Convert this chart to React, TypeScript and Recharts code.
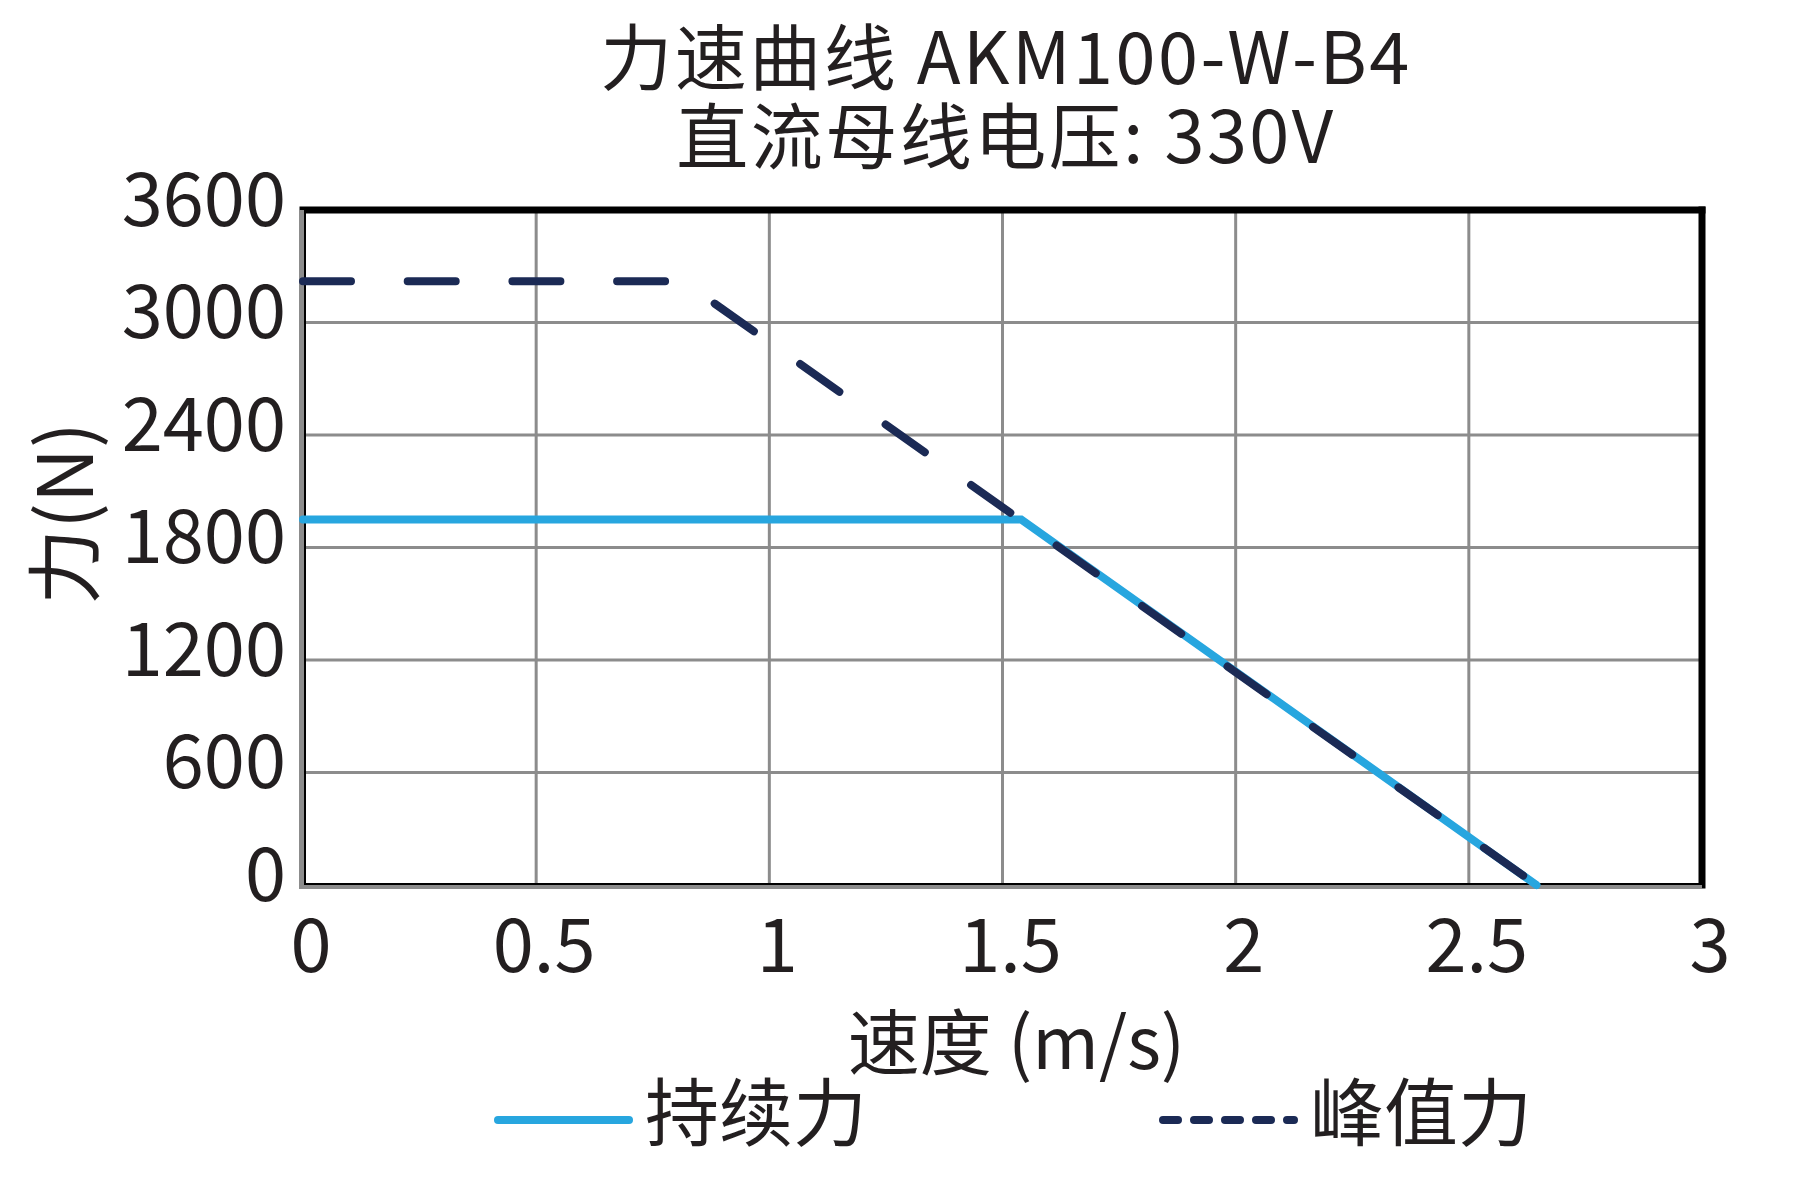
import { CartesianGrid, Legend, Line, LineChart, ReferenceLine, XAxis, YAxis } from "recharts";

const speedTicks = [0, 0.5, 1, 1.5, 2, 2.5, 3];
const forceTicks = [0, 600, 1200, 1800, 2400, 3000, 3600];

const continuousSpeed = [0, 1.54, 2.645];
const continuousForce = [1950, 1950, 0];
const peakSpeed = [0, 0.815, 2.645];
const peakForce = [3220, 3220, 0];

const titleLines = ["力速曲线 AKM100-W-B4", "直流母线电压: 330V"];
const xLabel = "速度 (m/s)";
const yLabel = "力(N)";
const seriesNames = ["持续力", "峰值力"];

const continuousData = continuousSpeed.map((speed, i) => ({ speed, force: continuousForce[i] }));
const peakData = peakSpeed.map((speed, i) => ({ speed, force: peakForce[i] }));

const FONT = "'Noto Sans CJK SC', 'Noto Sans', sans-serif";
const INK = "#231f20";
const BLUE = "#27a6df";
const NAVY = "#1b2a55";
const GRID = "#8c8c8c";

const W = 1808;
const H = 1178;

const legendLefts = [494, 1159];
const legendDashes = [undefined, "15 16"];

function XTick(props: any) {
  const { x, y, payload } = props;
  return (
    <text x={x + 8} y={y + 52} textAnchor="middle" dominantBaseline="central" fontSize={74} fill={INK} fontFamily={FONT}>
      {payload.value}
    </text>
  );
}

function YTick(props: any) {
  const { x, y, payload } = props;
  return (
    <text x={x} y={y - 17} textAnchor="end" dominantBaseline="central" fontSize={74} fill={INK} fontFamily={FONT}>
      {payload.value}
    </text>
  );
}

function XTitle(props: any) {
  const vb = props.viewBox || { x: 303, y: 885, width: 1399 };
  return (
    <text x={vb.x + vb.width / 2 + 14} y={vb.y + 152} textAnchor="middle" dominantBaseline="central" fontSize={72} fill={INK} fontFamily={FONT}>
      {xLabel}
    </text>
  );
}

function YTitle(props: any) {
  const vb = props.viewBox || { x: 183, y: 210, width: 120, height: 675 };
  const cx = vb.x - 123;
  const cy = vb.y + vb.height / 2 - 34;
  return (
    <text x={cx} y={cy} transform={`rotate(-90 ${cx} ${cy})`} textAnchor="middle" dominantBaseline="central" fontSize={76} fill={INK} fontFamily={FONT}>
      {yLabel}
    </text>
  );
}

function BottomEdge(props: any) {
  const { x1, x2, y1 } = props;
  return (
    <g>
      <line x1={x1 - 4} x2={x2} y1={y1 + 2} y2={y1 + 2} stroke={GRID} strokeWidth={4} />
      <line x1={x1} x2={x2} y1={y1 - 1} y2={y1 - 1} stroke="#000" strokeWidth={2} />
    </g>
  );
}

function LeftEdge(props: any) {
  const { x1, y1, y2 } = props;
  return (
    <g>
      <line x1={x1 - 1.5} x2={x1 - 1.5} y1={y1} y2={y2} stroke={GRID} strokeWidth={5} />
      <line x1={x1 + 2} x2={x1 + 2} y1={y1} y2={y2} stroke="#000" strokeWidth={2} />
    </g>
  );
}

function LegendContent(props: any) {
  const payload = props.payload || [];
  return (
    <div style={{ position: "relative", width: W, height: 90 }}>
      {seriesNames.map((name, i) => {
        const entry = payload.find((p: any) => p.value === name);
        if (!entry) return null;
        return (
          <div
            key={name}
            style={{ position: "absolute", left: legendLefts[i], top: 0, height: 90, display: "flex", alignItems: "center" }}
          >
            <svg width={139} height={12} style={{ position: "relative", top: 12 }}>
              <line
                x1={4}
                x2={135}
                y1={6}
                y2={6}
                stroke={entry.color}
                strokeWidth={8}
                strokeLinecap="round"
                strokeDasharray={legendDashes[i]}
              />
            </svg>
            <span style={{ marginLeft: 12, fontSize: 74, lineHeight: "74px", color: INK, fontFamily: FONT }}>{name}</span>
          </div>
        );
      })}
    </div>
  );
}

export default function App() {
  return (
    <div style={{ position: "relative", width: W, height: H, margin: "-8px 0 0 -8px", fontFamily: FONT, background: "#fff" }}>
      <LineChart width={W} height={H} margin={{ top: 210, right: 106, bottom: 203, left: 183 }}>
        <CartesianGrid stroke={GRID} strokeWidth={3} />
        <XAxis
          type="number"
          dataKey="speed"
          domain={[0, 3]}
          ticks={speedTicks}
          height={90}
          axisLine={false}
          tickLine={false}
          tickSize={0}
          tick={XTick}
          interval={0}
          label={{ content: XTitle }}
        />
        <YAxis
          type="number"
          dataKey="force"
          domain={[0, 3600]}
          ticks={forceTicks}
          width={120}
          axisLine={false}
          tickLine={false}
          tickSize={0}
          tickMargin={17}
          tick={YTick}
          interval={0}
          label={{ content: YTitle }}
        />
        <ReferenceLine y={3600} stroke="#000" strokeWidth={7} strokeLinecap="square" />
        <ReferenceLine x={3} stroke="#000" strokeWidth={7} strokeLinecap="square" />
        <ReferenceLine y={0} shape={BottomEdge} />
        <ReferenceLine x={0} shape={LeftEdge} />
        <Line
          data={continuousData}
          dataKey="force"
          name={seriesNames[0]}
          type="linear"
          stroke={BLUE}
          strokeWidth={8}
          strokeLinecap="round"
          dot={false}
          activeDot={false}
          isAnimationActive={false}
        />
        <Line
          data={peakData}
          dataKey="force"
          name={seriesNames[1]}
          type="linear"
          stroke={NAVY}
          strokeWidth={8}
          strokeLinecap="round"
          strokeDasharray="48 56.7"
          dot={false}
          activeDot={false}
          isAnimationActive={false}
        />
        <Legend
          verticalAlign="middle"
          align="center"
          layout="horizontal"
          wrapperStyle={{ top: 1063, left: 0, width: W, height: 90 }}
          content={LegendContent}
        />
      </LineChart>
      <div
        style={{
          position: "absolute",
          left: 0,
          top: 13,
          width: 2012,
          textAlign: "center",
          whiteSpace: "pre",
          fontSize: 72,
          lineHeight: "79px",
          letterSpacing: 2.5,
          color: INK,
          fontFamily: FONT,
        }}
      >
        {`${titleLines[0]}\n${titleLines[1]}`}
      </div>
    </div>
  );
}
